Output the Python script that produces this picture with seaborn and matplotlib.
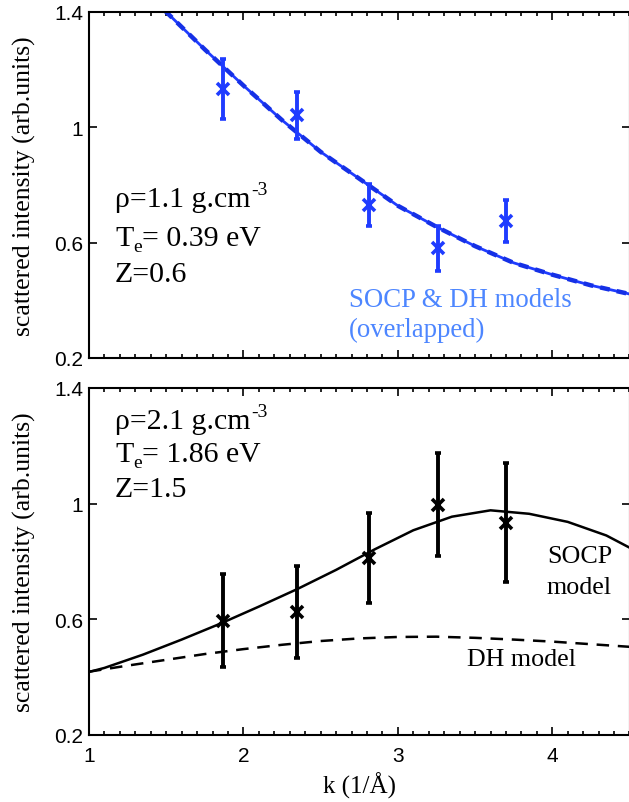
import numpy as np
import pandas as pd
import matplotlib
matplotlib.use("Agg")
import matplotlib.pyplot as plt
import seaborn as sns
from matplotlib.ticker import MultipleLocator, FixedLocator, FixedFormatter

# ---------------- data ----------------
k_pts = [1.87, 2.35, 2.81, 3.26, 3.70]

top_I = [1.133, 1.043, 0.731, 0.580, 0.676]
top_lo = [1.029, 0.960, 0.658, 0.503, 0.601]
top_hi = [1.237, 1.124, 0.803, 0.659, 0.748]

bot_I = [0.595, 0.624, 0.811, 0.995, 0.933]
bot_lo = [0.434, 0.465, 0.657, 0.820, 0.728]
bot_hi = [0.757, 0.785, 0.967, 1.175, 1.141]

k_top_model = [1.0, 1.25, 1.5, 1.75, 2.0, 2.25, 2.5, 2.75, 3.0, 3.25, 3.5, 3.75, 4.0, 4.25, 4.5]
top_socp = [1.66, 1.53, 1.400, 1.270, 1.145, 1.025, 0.915, 0.822, 0.728, 0.655, 0.588, 0.530, 0.489, 0.452, 0.422]
top_dh = [1.66, 1.53, 1.400, 1.270, 1.145, 1.025, 0.915, 0.822, 0.728, 0.655, 0.588, 0.530, 0.489, 0.452, 0.422]

k_bot_socp = [1.0, 1.1, 1.35, 1.6, 1.85, 2.1, 2.35, 2.6, 2.85, 3.1, 3.35, 3.6, 3.85, 4.1, 4.35, 4.6]
bot_socp = [0.418, 0.432, 0.478, 0.530, 0.585, 0.644, 0.705, 0.771, 0.842, 0.908, 0.955, 0.977, 0.965, 0.937, 0.890, 0.820]

k_bot_dh = [1.0, 1.25, 1.5, 1.75, 2.0, 2.25, 2.5, 2.75, 3.0, 3.25, 3.5, 3.75, 4.0, 4.25, 4.5]
bot_dh = [0.419, 0.440, 0.460, 0.480, 0.497, 0.512, 0.525, 0.534, 0.539, 0.540, 0.536, 0.530, 0.523, 0.514, 0.505]

y_ticks = [0.2, 0.6, 1.0, 1.4]
y_ticklabels = ["0.2", "0.6", "1", "1.4"]
x_ticks = [1, 2, 3, 4]
x_ticklabels = ["1", "2", "3", "4"]

# ---------------- style ----------------
sns.set_style("ticks")
plt.rcParams["font.family"] = ["Liberation Serif", "DejaVu Serif"]
plt.rcParams["mathtext.fontset"] = "custom"
plt.rcParams["mathtext.rm"] = "Liberation Serif"
plt.rcParams["mathtext.it"] = "Liberation Serif:italic"
plt.rcParams["text.color"] = "black"
plt.rcParams["axes.labelcolor"] = "black"
plt.rcParams["xtick.color"] = "black"
plt.rcParams["ytick.color"] = "black"

W, H = 629, 803
fig = plt.figure(figsize=(W / 100, H / 100), dpi=100)

def fx(px):
    return px / W

def fy(py):
    return 1 - py / H

left, right = 89, 629.5
ax1 = fig.add_axes([fx(left), fy(359), (right - left) / W, (359 - 13) / H])
ax2 = fig.add_axes([fx(left), fy(736), (right - left) / W, (736 - 389) / H])

BLUE = "#1f3cff"
BLUE_D = "#1530e6"
LBLUE = "#4d86ff"

df_top = pd.DataFrame({"k": k_top_model, "socp": top_socp, "dh": top_dh})
df_bs = pd.DataFrame({"k": k_bot_socp, "I": bot_socp})
df_bd = pd.DataFrame({"k": k_bot_dh, "I": bot_dh})

# top panel
sns.lineplot(data=df_top, x="k", y="socp", ax=ax1, color=BLUE, lw=2.0)
sns.lineplot(data=df_top, x="k", y="dh", ax=ax1, color=BLUE_D, lw=3.2,
             linestyle=(0, (2.2, 1.6)))
ti = np.array(top_I)
ax1.errorbar(k_pts, ti, yerr=[ti - np.array(top_lo), np.array(top_hi) - ti],
             fmt="x", color=BLUE, ms=8, mew=2.6, elinewidth=2.8,
             capsize=2.2, capthick=2.8, zorder=5)

# bottom panel
sns.lineplot(data=df_bs, x="k", y="I", ax=ax2, color="black", lw=1.8)
sns.lineplot(data=df_bd, x="k", y="I", ax=ax2, color="black", lw=1.8,
             linestyle=(0, (5, 3.5)))
bi = np.array(bot_I)
ax2.errorbar(k_pts, bi, yerr=[bi - np.array(bot_lo), np.array(bot_hi) - bi],
             fmt="x", color="black", ms=8, mew=2.6, elinewidth=2.8,
             capsize=2.2, capthick=2.8, zorder=5)

for ax in (ax1, ax2):
    ax.set_xlim(1, 4.5)
    ax.set_ylim(0.2, 1.4)
    ax.xaxis.set_major_locator(FixedLocator(x_ticks))
    ax.xaxis.set_minor_locator(MultipleLocator(0.1))
    ax.yaxis.set_major_locator(FixedLocator(y_ticks))
    ax.yaxis.set_major_formatter(FixedFormatter(y_ticklabels))
    ax.tick_params(which="both", direction="in", top=True, right=True,
                   width=1.2, colors="black")
    ax.tick_params(which="major", length=6)
    ax.tick_params(which="minor", length=3)
    ax.tick_params(axis="y", pad=4, labelsize=15)
    ax.tick_params(axis="x", pad=8, labelsize=15)
    for lab in ax.get_yticklabels() + ax.get_xticklabels():
        lab.set_fontfamily("Liberation Sans")
    for s in ax.spines.values():
        s.set_linewidth(1.5)
        s.set_color("black")
    ax.set_ylabel("scattered intensity (arb.units)", fontsize=18.5)
    ax.yaxis.set_label_coords((36 - left) / (right - left), 0.5)

ax1.set_xlabel("")
ax1.tick_params(axis="x", labelbottom=False)
ax2.xaxis.set_major_formatter(FixedFormatter(x_ticklabels))
for lab in ax2.get_xticklabels():
    lab.set_fontfamily("Liberation Sans")
ax2.set_xlabel("k (1/Å)", fontsize=18)
ax2.xaxis.set_label_coords(0.5, (736 - 773) / (736 - 389))

fs = 21.5

def rho_line(x, y, rho):
    t = fig.text(fx(x), fy(y), f"ρ={rho} g.cm", fontsize=fs, va="baseline")
    fig.canvas.draw()
    bb = t.get_window_extent()
    fig.text(bb.x1 / W + 0.001, fy(y - 12), "-3", fontsize=14, va="baseline")

def te_line(x, y, val):
    t = fig.text(fx(x), fy(y), "T", fontsize=fs, va="baseline")
    fig.canvas.draw()
    bb = t.get_window_extent()
    e = fig.text(bb.x1 / W, fy(y - 7 + 14), "e", fontsize=14, va="baseline")
    e.set_y(fy(y + 6))
    fig.canvas.draw()
    bb2 = e.get_window_extent()
    fig.text(bb2.x1 / W, fy(y), f"= {val} eV", fontsize=fs, va="baseline")

# annotations top
rho_line(115, 207, "1.1")
te_line(115, 246, "0.39")
fig.text(fx(115), fy(282), "Z=0.6", fontsize=fs, va="baseline")
fig.text(fx(349), fy(307), "SOCP & DH models", fontsize=19.3, va="baseline", color=LBLUE)
fig.text(fx(349), fy(337), "(overlapped)", fontsize=19.3, va="baseline", color=LBLUE)

# annotations bottom
rho_line(115, 429, "2.1")
te_line(115, 462, "1.86")
fig.text(fx(115), fy(497), "Z=1.5", fontsize=fs, va="baseline")
fig.text(fx(547), fy(563), "SOCP", fontsize=18.7, va="baseline")
fig.text(fx(547), fy(594), "model", fontsize=18.7, va="baseline")
fig.text(fx(467), fy(666), "DH model", fontsize=18.7, va="baseline")

fig.savefig("out.png", dpi=100)
